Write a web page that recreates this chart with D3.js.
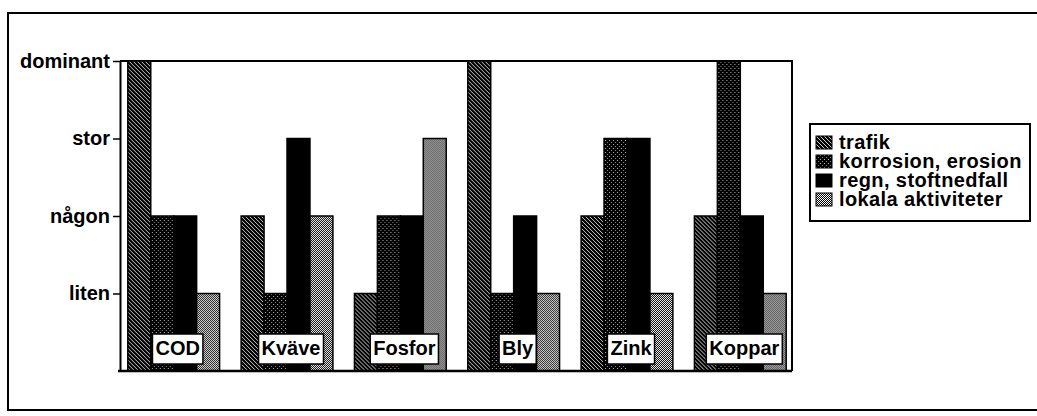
<!DOCTYPE html>
<html>
<head>
<meta charset="utf-8">
<script src="https://cdn.jsdelivr.net/npm/d3@7"></script>
<style>
  body { margin: 0; background: #fff; }
  svg { display: block; font-family: "Liberation Sans", Arial, Helvetica, sans-serif; font-weight: bold; }
</style>
</head>
<body>
<script>
// categories (ämnen) and sources
let groups = ["COD", "Kväve", "Fosfor", "Bly", "Zink", "Koppar"]
let sources = ["trafik", "korrosion, erosion", "regn, stoftnedfall", "lokala aktiviteter"]
let levels = ["liten", "någon", "stor", "dominant"]

// one array per source, values 1-4 = liten..dominant
let trafik = [4, 2, 1, 4, 2, 2]
let korrosion = [2, 1, 2, 1, 3, 4]
let regn = [2, 3, 2, 2, 3, 2]
let lokala = [1, 2, 3, 1, 1, 1]
let series = [trafik, korrosion, regn, lokala]
let fills = ["url(#p-trafik)", "url(#p-korr)", "#000", "url(#p-lokala)"]

const width = 1037
const height = 416
const plot = { left: 120, right: 792, top: 61, bottom: 371 }

let svg = d3.select("body").append("svg")
    .attr("width", width)
    .attr("height", height)

// fill patterns, like the old b/w print
let defs = svg.append("defs")
let pt = defs.append("pattern").attr("id", "p-trafik")
    .attr("patternUnits", "userSpaceOnUse").attr("width", 4).attr("height", 4)
pt.append("rect").attr("width", 4).attr("height", 4).attr("fill", "#000")
pt.append("path").attr("d", "M-1,-1 L5,5 M-1,3 L1,5 M3,-1 L5,1")
    .attr("stroke", "#fff").attr("stroke-width", 0.8)

let pk = defs.append("pattern").attr("id", "p-korr")
    .attr("patternUnits", "userSpaceOnUse").attr("width", 4).attr("height", 4)
pk.append("rect").attr("width", 4).attr("height", 4).attr("fill", "#000")
pk.append("rect").attr("x", 0).attr("y", 0).attr("width", 1).attr("height", 1).attr("fill", "#bbb")
pk.append("rect").attr("x", 2).attr("y", 2).attr("width", 1).attr("height", 1).attr("fill", "#888")

let pl = defs.append("pattern").attr("id", "p-lokala")
    .attr("patternUnits", "userSpaceOnUse").attr("width", 4).attr("height", 4)
pl.append("rect").attr("width", 4).attr("height", 4).attr("fill", "#fff")
;[[0, 0], [2, 0], [1, 1], [3, 1], [0, 2], [2, 2], [1, 3], [3, 3]].forEach(p => {
    pl.append("rect").attr("x", p[0]).attr("y", p[1]).attr("width", 1).attr("height", 1).attr("fill", "#000")
})

// outer frame
svg.append("rect")
    .attr("x", 8).attr("y", 13)
    .attr("width", 1040).attr("height", 397)
    .attr("fill", "none").attr("stroke", "#000").attr("stroke-width", 2)

let x0 = d3.scaleBand()
    .domain(groups)
    .range([plot.left + 1, plot.right + 1])
    .paddingInner(0.19)
    .paddingOuter(0.06)

let x1 = d3.scaleBand()
    .domain(d3.range(sources.length))
    .range([0, x0.bandwidth()])

let y = d3.scaleLinear()
    .domain([0, 4])
    .range([plot.bottom, plot.top])

// plot box (top + right)
svg.append("path")
    .attr("d", `M${plot.left},${plot.top} H${plot.right} V${plot.bottom}`)
    .attr("fill", "none").attr("stroke", "#000").attr("stroke-width", 2)

// bars
let g = svg.append("g")
g.selectAll("g.grp")
    .data(groups)
    .enter()
    .append("g")
    .attr("class", "grp")
    .attr("transform", d => "translate(" + x0(d) + ",0)")
    .selectAll("rect")
    .data((d, i) => series.map((s, k) => ({ k: k, v: s[i] })))
    .enter()
    .append("rect")
    .attr("x", d => x1(d.k))
    .attr("width", x1.bandwidth())
    .attr("y", d => y(d.v))
    .attr("height", d => y(0) - y(d.v))
    .attr("fill", d => fills[d.k])
    .attr("stroke", "#000")
    .attr("stroke-width", 1.5)

// group labels in white boxes
let labels = svg.append("g").selectAll("g")
    .data(groups)
    .enter()
    .append("g")
    .attr("transform", d => "translate(" + (x0(d) + x0.bandwidth() / 2 + 4) + "," + (plot.bottom - 7) + ")")

labels.append("text")
    .attr("text-anchor", "middle")
    .attr("y", -9)
    .attr("font-size", 20)
    .text(d => d)

labels.each(function () {
    let t = d3.select(this).select("text")
    let w = t.node().getComputedTextLength()
    d3.select(this).insert("rect", "text")
        .attr("x", -w / 2 - 3)
        .attr("y", -30)
        .attr("width", w + 6)
        .attr("height", 30)
        .attr("fill", "#fff")
        .attr("stroke", "#000")
        .attr("stroke-width", 1.5)
})

// y axis
let yAxis = d3.axisLeft(y)
    .tickValues([1, 2, 3, 4])
    .tickFormat(d => levels[d - 1])
    .tickSize(7)
    .tickSizeOuter(0)
    .tickPadding(3)

let ax = svg.append("g")
    .attr("transform", "translate(" + plot.left + ",0)")
    .call(yAxis)
ax.select(".domain").attr("stroke-width", 2)
ax.selectAll(".tick line").attr("stroke-width", 1.5)
ax.selectAll(".tick text")
    .attr("font-size", 20)
    .attr("font-family", "Liberation Sans, Arial, sans-serif")
    .attr("font-weight", "bold")
    .attr("fill", "#000")

// baseline
svg.append("line")
    .attr("x1", plot.left - 2).attr("x2", plot.right)
    .attr("y1", y(0)).attr("y2", y(0))
    .attr("stroke", "#000").attr("stroke-width", 2.5)

// legend
let legend = svg.append("g").attr("transform", "translate(810,124)")
legend.append("rect")
    .attr("width", 220).attr("height", 97)
    .attr("fill", "#fff").attr("stroke", "#000").attr("stroke-width", 2)

let items = legend.selectAll("g.item")
    .data(sources)
    .enter()
    .append("g")
    .attr("class", "item")
    .attr("transform", (d, i) => "translate(6," + (12 + i * 19) + ")")

items.append("rect")
    .attr("width", 16).attr("height", 13)
    .attr("fill", (d, i) => fills[i])
    .attr("stroke", "#000").attr("stroke-width", 1)

items.append("text")
    .attr("x", 23)
    .attr("y", 13)
    .attr("font-size", 20)
    .attr("letter-spacing", 0.4)
    .text(d => d)
</script>
</body>
</html>
